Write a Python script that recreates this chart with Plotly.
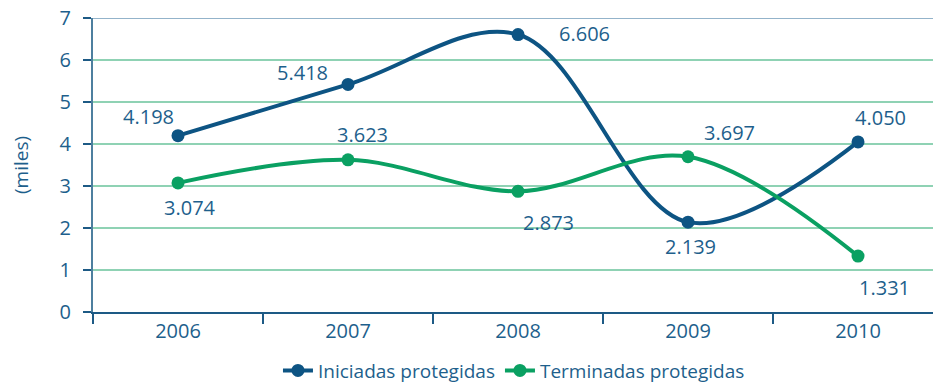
import plotly.graph_objects as go

years = ["2006", "2007", "2008", "2009", "2010"]
iniciadas = [4.198, 5.418, 6.606, 2.139, 4.050]
terminadas = [3.074, 3.623, 2.873, 3.697, 1.331]
iniciadas_labels = ["4.198", "5.418", "6.606", "2.139", "4.050"]
terminadas_labels = ["3.074", "3.623", "2.873", "3.697", "1.331"]
y_ticks = [0, 1, 2, 3, 4, 5, 6, 7]

BLUE = "#0d5483"
GREEN = "#0aa062"
TEXT = "#1e5f8c"
FONT = "Open Sans"

xs = list(range(len(years)))

fig = go.Figure()
fig.add_trace(go.Scatter(
    x=xs, y=iniciadas, name="Iniciadas protegidas", mode="lines+markers",
    line=dict(color=BLUE, width=4, shape="spline", smoothing=1.0),
    marker=dict(size=13, color=BLUE),
))
fig.add_trace(go.Scatter(
    x=xs, y=terminadas, name="Terminadas protegidas", mode="lines+markers",
    line=dict(color=GREEN, width=4, shape="spline", smoothing=1.0),
    marker=dict(size=13, color=GREEN),
))

# value labels, offset around each point (pixels)
ini_off = [(-30, 19), (-46, 12), (66, 1), (2, -24), (22, 24)]
ter_off = [(12, -25), (14, 25), (30, -31), (41, 24), (26, -31)]
annotations = []
for vals, labels, offs in ((iniciadas, iniciadas_labels, ini_off),
                           (terminadas, terminadas_labels, ter_off)):
    for x, v, t, (dx, dy) in zip(xs, vals, labels, offs):
        annotations.append(dict(
            x=x, y=v, text=t, showarrow=False, xshift=dx, yshift=dy,
            font=dict(family=FONT, size=20, color=TEXT),
        ))

fig.update_layout(
    width=933, height=386,
    margin=dict(l=93, r=0, t=18, b=74),
    paper_bgcolor="white", plot_bgcolor="white",
    showlegend=True,
    legend=dict(orientation="h", x=0.2202, xanchor="left",
                yref="container", y=0.04, yanchor="middle",
                font=dict(family=FONT, size=19, color=TEXT), itemwidth=30,
                traceorder="normal"),
    annotations=annotations,
    xaxis=dict(
        range=[-0.5, 4.441], tickvals=xs, ticktext=years, ticks="",
        showgrid=False, zeroline=False,
        showline=True, linecolor="#1d5a85", linewidth=2,
        tickfont=dict(family=FONT, size=20, color=TEXT),
        minor=dict(tickvals=[-0.5, 0.5, 1.5, 2.5, 3.5], ticks="outside",
                   ticklen=10, tickwidth=2, tickcolor="#1d5a85", showgrid=False),
    ),
    yaxis=dict(
        range=[0, 7], tickvals=y_ticks, ticks="outside", ticklen=8, tickwidth=2,
        tickcolor="#1d5a85", ticklabelstandoff=8,
        showgrid=True, gridcolor="#8fd2b4", gridwidth=1.5, zeroline=False,
        showline=True, linecolor="#4d7f9f", linewidth=2,
        tickfont=dict(family=FONT, size=20, color=TEXT),
        title=dict(text="(miles)", font=dict(family=FONT, size=19, color=TEXT), standoff=26),
    ),
)

# top boundary line in light steel blue
fig.add_shape(type="line", xref="paper", yref="y", x0=0, x1=1, y0=7, y1=7,
              line=dict(color="#93b3ca", width=2), layer="below")

fig.write_html("out.html")
